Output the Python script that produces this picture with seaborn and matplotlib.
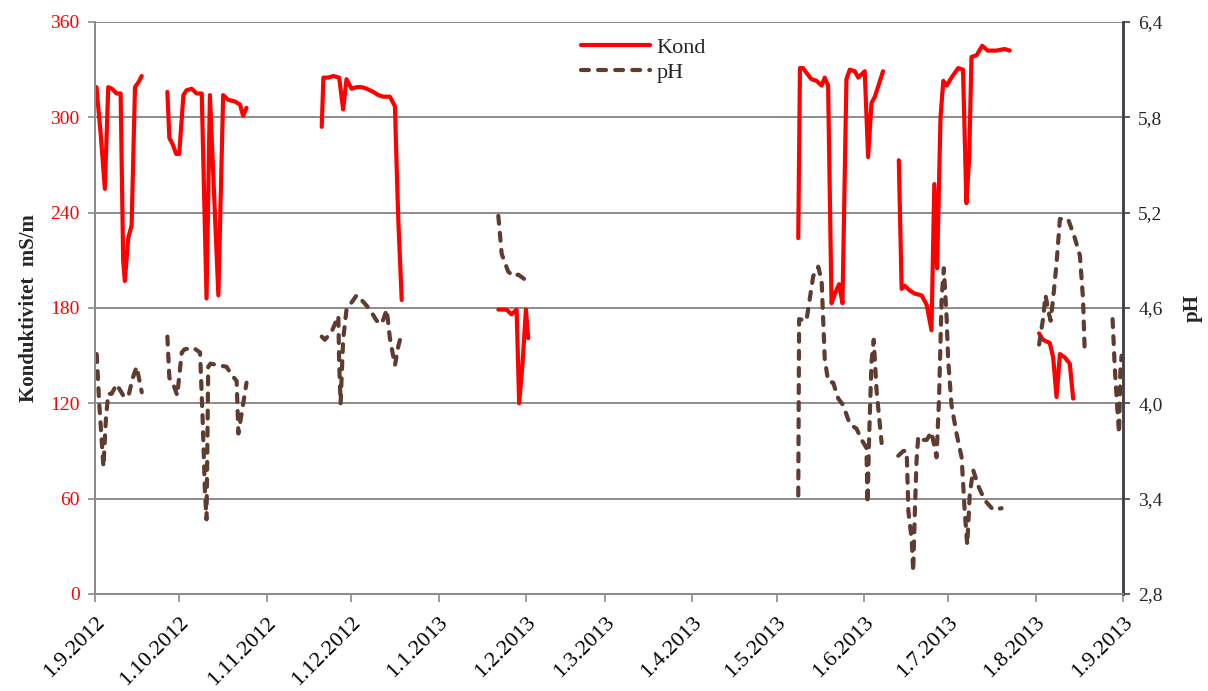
import matplotlib
matplotlib.use('Agg')
import matplotlib.pyplot as plt
import numpy as np
import pandas as pd
import seaborn as sns

START = pd.Timestamp('2012-09-01')

# conductivity (mS/m), day offsets from 1.9.2012, one list per measuring period
kond_days = [
    [0.5, 2, 3.5, 4.7, 6, 7.7, 9.1, 10, 10.6, 11.8, 13, 14.2, 15.4, 16.6],
    [25.7, 26.4, 27.6, 28.8, 29.9, 31.4, 32.5, 34.3, 36.1, 37.9, 39.6, 40.8,
     43.8, 45.5, 47.3, 49.7, 51.5, 52.6, 53.8],
    [80.5, 81.1, 82.8, 84.6, 86.7, 88.1, 89.3, 91.1, 92.9, 94.7, 96.5, 98.8,
     100.6, 102.4, 104.7, 106.5, 107.1, 107.7, 108.9],
    [143.2, 146.1, 147.9, 149.7, 150.6, 151.8, 153, 153.8],
    [249.7, 250.3, 251.4, 252.6, 254.4, 256.2, 258, 259.1, 260.3, 261.5, 262.7,
     264.2, 265.4, 266.8, 268, 269.8, 271, 273.3, 274.5, 275.7, 276.9, 279.8],
    [285.4, 286.4, 287.5, 289.3, 291.1, 293.5, 295.3, 297.0, 298.0, 299.0,
     300.2, 301.2, 302.4, 304.1, 306.5, 308.2, 309.4, 310.4, 311.2, 313, 315,
     317, 320, 323, 324.8],
    [335.2, 336.6, 339, 340.2, 341.4, 342.6, 344.3, 346.1, 347.3],
]
kond_vals = [
    [319, 290, 255, 319, 318, 315, 315, 210, 197, 224, 232, 319, 322, 326],
    [316, 287, 283, 277, 277, 314, 317, 318, 315, 315, 186, 314,
     188, 314, 311, 310, 308, 301, 306],
    [294, 325, 325, 326, 325, 305, 324, 318, 319, 319, 318, 316,
     314, 313, 313, 307, 269, 235, 185],
    [179, 179, 176, 179, 120, 145, 179, 161],
    [224, 331, 331, 328, 324, 323, 320, 325, 320, 183, 189,
     195, 183, 324, 330, 329, 325, 329, 275, 309, 313, 329],
    [273, 192, 194, 191, 189, 188, 182, 166, 258, 205,
     300, 323, 320, 325, 331, 330, 246, 275, 338, 339, 345,
     342, 342, 343, 342],
    [164, 160, 158, 149, 124, 151, 149, 145, 123],
]

# pH, same layout
ph_days = [
    [0.6, 1.5, 3.0, 3.9, 4.7, 5.9, 7.7, 10.0, 11.8, 13.4, 14.8, 16.6],
    [25.7, 26.4, 27.8, 29.2, 30.8, 31.8, 34.9, 37.3, 38.2, 39.0, 39.6, 40.2,
     41.0, 43.8, 46.7, 48.5, 50.3, 50.9, 52.1, 53.8],
    [80.5, 81.6, 84.0, 86.4, 86.7, 87.2, 88.1, 89.3, 90.5, 92.9, 95.2, 97.6,
     100, 101.8, 103.6, 104.7, 106.5, 107.7, 108.9],
    [143.2, 144.4, 146.7, 148.5, 150.3, 152.6],
    [249.7, 250, 252.6, 253.8, 255, 256.8, 258, 259.1, 260.3, 262.1, 263.9,
     265.6, 268, 270.4, 272.2, 273.9, 274.3, 274.9, 275.7, 276.5, 277.5, 279.3],
    [285.2, 287, 288.2, 288.8, 290, 290.5, 291.1, 291.7, 292.3, 293.5, 295.3,
     297.0, 298.8, 299.7, 300.6, 301.4, 302.4, 302.9, 304.1, 305.9, 307.7,
     308.8, 309.7, 310.6, 311.8, 313.6, 315.9, 318.9, 321.9],
    [335.2, 336.6, 337.5, 338.4, 339.3, 340.2, 341.4, 342.6, 345.5, 347.9,
     349.7, 350.8, 351.4],
    [361.3, 362.1, 362.9, 363.6, 364.1, 364.5],
]
ph_vals = [
    [4.31, 4.00, 3.60, 3.91, 4.06, 4.06, 4.12, 4.05, 4.04, 4.16, 4.23, 4.07],
    [4.42, 4.16, 4.12, 4.05, 4.32, 4.34, 4.35, 4.32, 3.91, 3.46, 3.27, 4.23,
     4.25, 4.24, 4.23, 4.18, 4.14, 3.81, 3.94, 4.13],
    [4.42, 4.40, 4.45, 4.55, 4.25, 4.00, 4.40, 4.59, 4.62, 4.68, 4.64, 4.59,
     4.52, 4.50, 4.59, 4.41, 4.24, 4.36, 4.44],
    [5.18, 4.94, 4.83, 4.80, 4.81, 4.78],
    [3.42, 4.53, 4.52, 4.66, 4.80, 4.86, 4.77, 4.28, 4.14, 4.13, 4.03,
     3.99, 3.87, 3.84, 3.77, 3.72, 3.37, 3.81, 4.26, 4.40, 4.08, 3.75],
    [3.67, 3.70, 3.70, 3.32, 3.14, 2.94, 3.32, 3.64, 3.79, 3.77, 3.77,
     3.82, 3.66, 4.04, 4.66, 4.85, 4.53, 4.28, 3.99, 3.81, 3.66,
     3.32, 3.11, 3.43, 3.58, 3.48, 3.39, 3.33, 3.34],
    [4.37, 4.53, 4.68, 4.59, 4.52, 4.66, 4.88, 5.16, 5.16, 5.04,
     4.93, 4.66, 4.33],
    [4.53, 4.22, 3.99, 3.81, 4.22, 4.30],
]

x_ticks = ['1.9.2012', '1.10.2012', '1.11.2012', '1.12.2012', '1.1.2013',
           '1.2.2013', '1.3.2013', '1.4.2013', '1.5.2013', '1.6.2013',
           '1.7.2013', '1.8.2013', '1.9.2013']
kond_ticks = [0, 60, 120, 180, 240, 300, 360]
ph_ticks = [2.8, 3.4, 4.0, 4.6, 5.2, 5.8, 6.4]
ph_tick_labels = ['2,8', '3,4', '4,0', '4,6', '5,2', '5,8', '6,4']


def to_frame(days, vals, name):
    rows = []
    for i, (d, v) in enumerate(zip(days, vals)):
        for dd, vv in zip(d, v):
            rows.append((START + pd.Timedelta(days=dd), vv, i))
    return pd.DataFrame(rows, columns=['date', name, 'seg'])


kond_df = to_frame(kond_days, kond_vals, 'kond')
ph_df = to_frame(ph_days, ph_vals, 'ph')

sns.set_style('white')
plt.rcParams['font.family'] = ['Liberation Serif', 'DejaVu Serif']

fig = plt.figure(figsize=(12.08, 6.91), dpi=100)
ax = fig.add_axes([95 / 1208, 1 - 594 / 691, 1028 / 1208, 572 / 691])
ax2 = ax.twinx()

grid_col = '#8c8c8c'
red = '#ff0000'
brown = '#5e3c30'

sns.lineplot(data=kond_df, x='date', y='kond', units='seg', estimator=None,
             color=red, lw=3.0, ax=ax, legend=False, sort=False)
sns.lineplot(data=ph_df, x='date', y='ph', units='seg', estimator=None,
             color=brown, lw=3.0, ax=ax2, legend=False, sort=False,
             linestyle=(0, (1.9, 2.2)))
for ln in ax.lines:
    ln.set_solid_capstyle('round')
for ln in ax2.lines:
    ln.set_dash_capstyle('round')

xt = pd.to_datetime(x_ticks, format='%d.%m.%Y')
ax.set_xlim(xt[0], xt[-1])
ax.set_xticks(xt)
ax.set_xticklabels(x_ticks, rotation=45, ha='right', rotation_mode='anchor',
                   fontsize=16)

ax.set_ylim(0, 360)
ax.set_yticks(kond_ticks)
ax.tick_params(axis='y', colors=red, labelsize=14, length=5, width=1.2,
               direction='out', left=True, pad=6)
ax.tick_params(axis='y', color=grid_col)
ax.tick_params(axis='x', length=6, width=1.2, color=grid_col, direction='out',
               bottom=True, labelcolor='black', pad=8)
for t in kond_ticks[1:]:
    ax.axhline(t, color=grid_col, lw=1.4, zorder=0)

ax2.set_ylim(2.8, 6.4)
ax2.set_yticks(ph_ticks)
ax2.set_yticklabels(ph_tick_labels)
ax2.tick_params(axis='y', labelsize=14, length=5, width=1.2, color='#404050',
                direction='out', right=True, pad=6)

ax.set_ylabel('Konduktivitet  mS/m', fontsize=15, fontweight='bold', labelpad=8)
ax2.set_ylabel('pH', fontsize=15, fontweight='bold', labelpad=14)
ax.set_xlabel('')

for a in (ax, ax2):
    a.spines['top'].set_visible(False)
    a.spines['left'].set_color(grid_col)
    a.spines['bottom'].set_color(grid_col)
    a.spines['left'].set_linewidth(1.4)
    a.spines['bottom'].set_linewidth(1.4)
    a.spines['right'].set_color('#404050')
    a.spines['right'].set_linewidth(1.8)

fig.legend([ax.lines[0], ax2.lines[0]], ['Kond', 'pH'], loc='upper left',
           bbox_to_anchor=(570 / 1208, 1 - 26 / 691), frameon=False,
           fontsize=16, borderpad=0, handlelength=3.1, handletextpad=0.3,
           labelspacing=0.2)

fig.savefig('out.png', dpi=100)
